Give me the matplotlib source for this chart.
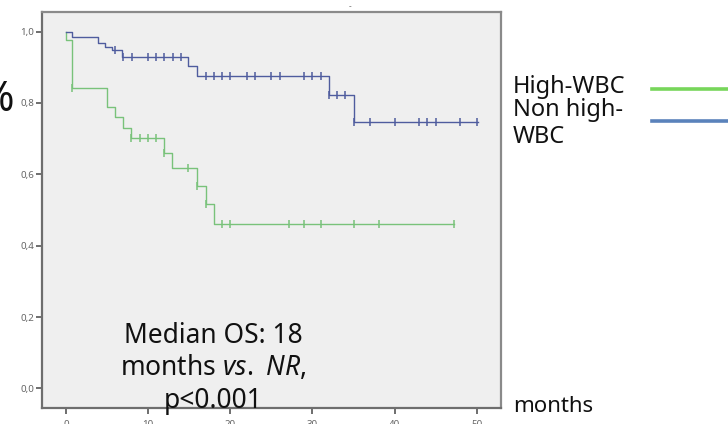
import numpy as np
import matplotlib
matplotlib.use("Agg")
import matplotlib.pyplot as plt
from matplotlib.lines import Line2D

# Kaplan-Meier steps
blue_times = [0, 0.8, 3.9, 4.8, 5.6, 6.8, 14.9, 15.9, 32.0, 35.1, 50.1]
blue_surv = [1.0, 0.986, 0.967, 0.958, 0.949, 0.930, 0.905, 0.876, 0.821, 0.747, 0.747]
blue_censored = [6.0, 7.0, 8.0, 10, 11, 12, 13, 14, 17, 18, 19, 20, 22, 23, 25, 26,
                 29, 30, 31, 32, 33, 34, 35.1, 37, 40, 43, 44, 45, 48, 50]

green_times = [0, 0, 0.8, 5.0, 6.0, 7.0, 7.9, 11.9, 12.9, 16.0, 17.0, 18.0, 47.2]
green_surv = [1.0, 0.977, 0.841, 0.788, 0.760, 0.729, 0.701, 0.661, 0.617, 0.567,
              0.517, 0.461, 0.461]
green_censored = [0.8, 7.9, 9.0, 10.0, 11.0, 11.9, 14.9, 16.0, 17.0, 19.0, 20.0,
                  27.1, 29.0, 31.0, 35.1, 38.1, 47.2]

y_ticks = [0.0, 0.2, 0.4, 0.6, 0.8, 1.0]
y_labels = ["0,0", "0,2", "0,4", "0,6", "0,8", "1,0"]
x_ticks = [0, 10, 20, 30, 40, 50]
median_lines = ["Median OS: 18", r"months $\mathit{vs.\ NR}$,", "p<0.001"]

plt.rcParams["font.family"] = ["Noto Sans", "DejaVu Sans"]
plt.rcParams["mathtext.fontset"] = "custom"
plt.rcParams["mathtext.rm"] = "Noto Sans"
plt.rcParams["mathtext.it"] = "Noto Sans:italic"

green_c = "#79c27a"
blue_c = "#4f5c9e"
W, H = 728, 424


def surv_at(times, surv, t):
    idx = np.searchsorted(times, t, side="right") - 1
    return np.asarray(surv)[idx]


def fx(px):
    return px / W


def fy(py):
    return 1 - py / H


fig = plt.figure(figsize=(7.28, 4.24), dpi=100)
ax = fig.add_axes([0.0577, 0.0377, 0.6305, 0.934])
ax.set_facecolor("#efefef")

ax.step(green_times, green_surv, where="post", color=green_c, lw=1.0)
ax.step(blue_times, blue_surv, where="post", color=blue_c, lw=1.0)
ax.plot(green_censored, surv_at(green_times, green_surv, green_censored), ls="none",
        marker="|", ms=6, mew=1.1, color=green_c)
ax.plot(blue_censored, surv_at(blue_times, blue_surv, blue_censored), ls="none",
        marker="|", ms=6, mew=1.1, color=blue_c)

ax.set_xlim(-2.9, 52.95)
ax.set_ylim(-0.055, 1.055)
ax.set_yticks(y_ticks)
ax.set_yticklabels(y_labels)
ax.set_xticks(x_ticks)
ax.tick_params(axis="both", length=4, width=1.2, color="#555555", labelsize=7,
               labelcolor="#666666", pad=1.5)
ax.tick_params(axis="x", pad=4.5)  # labels sit half below the image edge

for side in ["left", "bottom"]:
    ax.spines[side].set_color("#6e6e6e")
    ax.spines[side].set_linewidth(1.6)
for side in ["top", "right"]:
    ax.spines[side].set_color("#8a8a8a")
    ax.spines[side].set_linewidth(1.6)

# median annotation, drawn above the axes frame
for line, base in zip(median_lines, [343, 375, 408]):
    fig.text(fx(213), fy(base), line, ha="center", va="baseline",
             fontsize=19, color="#111111")

# legend: text first, line after it, running off the right edge
fig.text(fx(513), fy(93), "High-WBC", fontsize=17, va="baseline", color="#111111")
fig.text(fx(513), fy(116), "Non high-", fontsize=17, va="baseline", color="#111111")
fig.text(fx(513), fy(143), "WBC", fontsize=17, va="baseline", color="#111111")
fig.add_artist(Line2D([fx(652), 1.02], [fy(89), fy(89)], color="#77d65a", lw=2.6))
fig.add_artist(Line2D([fx(652), 1.02], [fy(121), fy(121)], color="#5a82bb", lw=2.6))

fig.text(fx(513), fy(412), "months", fontsize=16, va="baseline", color="#111111")
fig.text(fx(15), fy(100), "%", fontsize=30, color="#111111", ha="right", va="center")
fig.text(fx(350), fy(7), "-", fontsize=6, color="#777777", ha="center", va="center")

fig.savefig("out.png", dpi=100)
